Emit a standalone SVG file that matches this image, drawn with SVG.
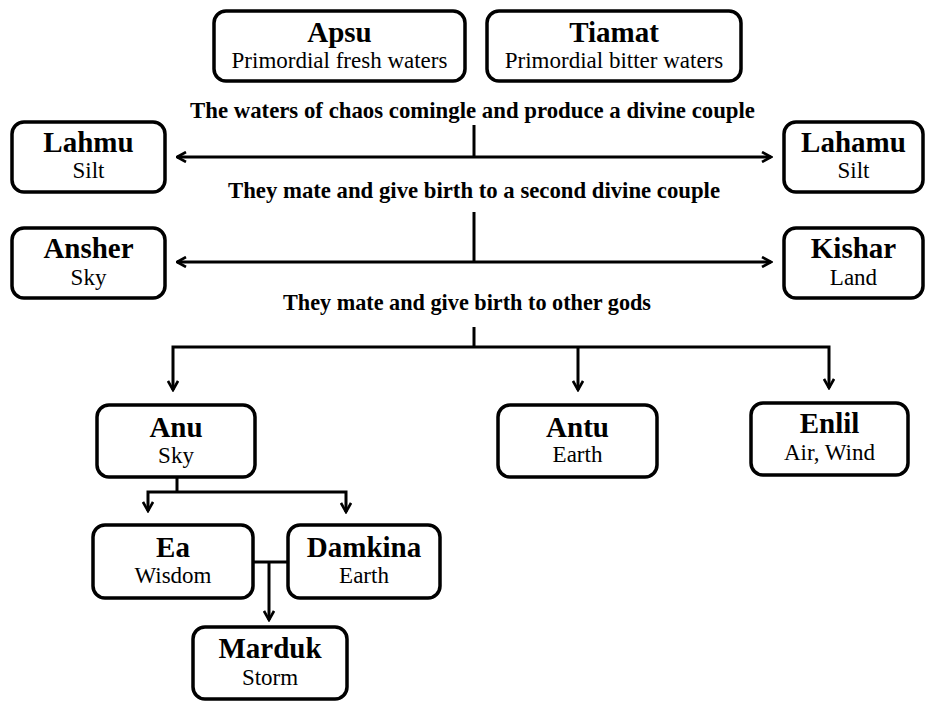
<svg xmlns="http://www.w3.org/2000/svg" width="931" height="702" viewBox="0 0 931 702">
<defs>
<style>
.box{fill:#fff;stroke:#000;stroke-width:3.5}
.t{font-family:"Liberation Serif","Times New Roman",serif;font-weight:bold;font-size:29px;text-anchor:middle;fill:#000}
.s{font-family:"Liberation Serif","Times New Roman",serif;font-size:23px;text-anchor:middle;fill:#000}
.l{font-family:"Liberation Serif","Times New Roman",serif;font-weight:bold;font-size:22.5px;fill:#000}
.c{fill:none;stroke:#000;stroke-width:3}
</style>
<marker id="ah" viewBox="0 0 12 12" refX="10.5" refY="6" markerWidth="12" markerHeight="12" markerUnits="userSpaceOnUse" orient="auto-start-reverse">
<path d="M1.5,1 L10.5,6 L1.5,11" fill="none" stroke="#000" stroke-width="2.6"/>
</marker>
</defs>
<rect width="931" height="702" fill="#fff"/>

<g id="labels">
<text class="l" x="190" y="118" textLength="565" lengthAdjust="spacingAndGlyphs">The waters of chaos comingle and produce a divine couple</text>
<text class="l" x="228" y="198" textLength="492" lengthAdjust="spacingAndGlyphs">They mate and give birth to a second divine couple</text>
<text class="l" x="283" y="310" textLength="368" lengthAdjust="spacingAndGlyphs">They mate and give birth to other gods</text>
</g>

<g id="connectors">
<path class="c" d="M474,125 V157"/>
<path class="c" d="M177,157 H771" marker-start="url(#ah)" marker-end="url(#ah)"/>
<path class="c" d="M474,212 V262"/>
<path class="c" d="M177,262 H771" marker-start="url(#ah)" marker-end="url(#ah)"/>
<path class="c" d="M474,327 V347"/>
<path class="c" d="M173,390 V347 H829 V388" marker-start="url(#ah)" marker-end="url(#ah)"/>
<path class="c" d="M578,347 V390" marker-end="url(#ah)"/>
<path class="c" d="M177,477 V492"/>
<path class="c" d="M148,511 V492 H346 V512" marker-start="url(#ah)" marker-end="url(#ah)"/>
<path class="c" d="M253,562 H288"/>
<path class="c" d="M269,562 V620" marker-end="url(#ah)"/>
</g>

<g id="apsu">
<rect class="box" x="214" y="11" width="251" height="70" rx="12"/>
<text class="t" x="339.5" y="42">Apsu</text>
<text class="s" x="339.5" y="68">Primordial fresh waters</text>
</g>
<g id="tiamat">
<rect class="box" x="487" y="11" width="254" height="70" rx="12"/>
<text class="t" x="614" y="42">Tiamat</text>
<text class="s" x="614" y="68">Primordial bitter waters</text>
</g>
<g id="lahmu">
<rect class="box" x="12" y="122" width="153" height="70" rx="12"/>
<text class="t" x="88.5" y="152">Lahmu</text>
<text class="s" x="88.5" y="178">Silt</text>
</g>
<g id="lahamu">
<rect class="box" x="784" y="122" width="139" height="70" rx="12"/>
<text class="t" x="853.5" y="152">Lahamu</text>
<text class="s" x="853.5" y="178">Silt</text>
</g>
<g id="ansher">
<rect class="box" x="12" y="228" width="153" height="70" rx="12"/>
<text class="t" x="88.5" y="258">Ansher</text>
<text class="s" x="88.5" y="285">Sky</text>
</g>
<g id="kishar">
<rect class="box" x="784" y="228" width="139" height="70" rx="12"/>
<text class="t" x="853.5" y="258">Kishar</text>
<text class="s" x="853.5" y="285">Land</text>
</g>
<g id="anu">
<rect class="box" x="97" y="405" width="158" height="72" rx="12"/>
<text class="t" x="176" y="437">Anu</text>
<text class="s" x="176" y="463">Sky</text>
</g>
<g id="antu">
<rect class="box" x="498" y="405" width="159" height="72" rx="12"/>
<text class="t" x="577.5" y="437">Antu</text>
<text class="s" x="577.5" y="462">Earth</text>
</g>
<g id="enlil">
<rect class="box" x="751" y="403" width="157" height="72" rx="12"/>
<text class="t" x="829.5" y="433">Enlil</text>
<text class="s" x="829.5" y="460">Air, Wind</text>
</g>
<g id="ea">
<rect class="box" x="93" y="525" width="160" height="73" rx="12"/>
<text class="t" x="173" y="557">Ea</text>
<text class="s" x="173" y="583">Wisdom</text>
</g>
<g id="damkina">
<rect class="box" x="288" y="525" width="152" height="73" rx="12"/>
<text class="t" x="364" y="557">Damkina</text>
<text class="s" x="364" y="583">Earth</text>
</g>
<g id="marduk">
<rect class="box" x="193" y="627" width="154" height="72" rx="12"/>
<text class="t" x="270" y="658">Marduk</text>
<text class="s" x="270" y="685">Storm</text>
</g>
</svg>
